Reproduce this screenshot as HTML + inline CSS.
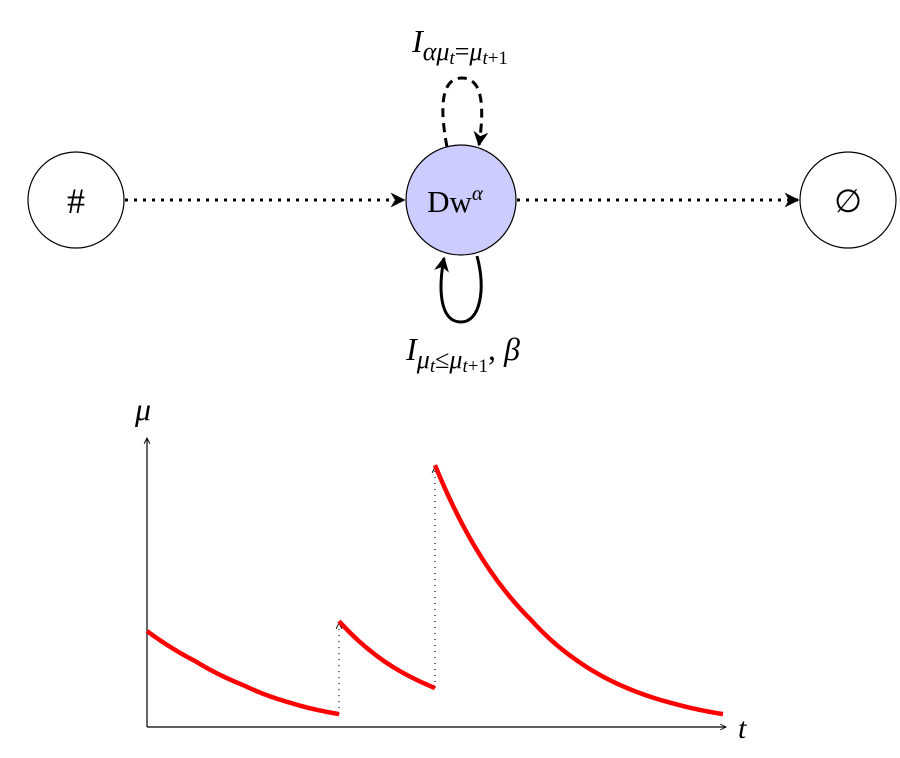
<!DOCTYPE html>
<html><head><meta charset="utf-8"><style>
body{margin:0;background:#fff;}
svg text{font-family:"Liberation Serif",serif;}
</style></head><body>
<svg width="900" height="753" viewBox="0 0 900 753">
<defs>
<marker id="ah" viewBox="0 0 10 10" refX="9" refY="5" markerWidth="5" markerHeight="5" orient="auto"><path d="M0,0 L10,5 L0,10 L3,5 z" fill="#000"/></marker>
<marker id="ax" viewBox="0 0 10 10" refX="9" refY="5" markerWidth="6" markerHeight="6" orient="auto"><path d="M1,1 L9,5 L1,9" fill="none" stroke="#000" stroke-width="1.3"/></marker>
</defs>
<g>
<circle cx="76" cy="200" r="48" fill="#fff" stroke="#000" stroke-width="1.2"/>
<text x="76" y="213" font-size="36" text-anchor="middle">#</text>
<circle cx="461" cy="200" r="55" fill="#ccccff" stroke="#000" stroke-width="1.2"/>
<text x="455" y="212" font-size="31" text-anchor="middle">Dw<tspan font-size="21" font-style="italic" dy="-12">α</tspan></text>
<circle cx="848" cy="200" r="48" fill="#fff" stroke="#000" stroke-width="1.2"/>
<text x="848" y="212" font-size="32" text-anchor="middle">∅</text>
<line x1="125" y1="200" x2="404" y2="200" stroke="#000" stroke-width="3" stroke-dasharray="3,6" marker-end="url(#ah)"/>
<line x1="517" y1="200" x2="798" y2="200" stroke="#000" stroke-width="3" stroke-dasharray="3,6" marker-end="url(#ah)"/>
<path d="M447,147 C440,110 440,78 462,78 C484,78 484,110 479,145" fill="none" stroke="#000" stroke-width="3" stroke-dasharray="9,6" marker-end="url(#ah)"/>
<path d="M477,256 C486,290 480,322 461,322 C440,322 438,290 444,258" fill="none" stroke="#000" stroke-width="3" marker-end="url(#ah)"/>
<text x="460" y="52" font-size="32" text-anchor="middle" font-style="italic">I<tspan font-size="26" dy="8">αμ</tspan><tspan font-size="19" dy="4">t</tspan><tspan font-size="26" dy="-4" font-style="normal">=</tspan><tspan font-size="26">μ</tspan><tspan font-size="19" dy="4">t</tspan><tspan font-size="19" font-style="normal">+1</tspan></text>
<text x="463" y="360" font-size="32" text-anchor="middle" font-style="italic">I<tspan font-size="26" dy="8">μ</tspan><tspan font-size="19" dy="4">t</tspan><tspan font-size="26" dy="-4" font-style="normal">≤</tspan><tspan font-size="26">μ</tspan><tspan font-size="19" dy="4">t</tspan><tspan font-size="19" font-style="normal">+1</tspan><tspan font-style="normal" dy="-12">, </tspan><tspan>β</tspan></text>
</g>
<g id="chart"></g>
</svg>
<script>
var seg1T=[0,0.5,1,1.5,2];
var seg1Mu=[3.2,2.2,1.4,0.8,0.43];
var seg2T=[2,2.5,3];
var seg2Mu=[3.53,2.13,1.3];
var seg3T=[3,3.5,4,4.5,5,5.5,6];
var seg3Mu=[8.73,5.57,3.57,2.17,1.3,0.77,0.43];
var jumpT=[2,3];
var jumpFrom=[0.43,1.3];
var jumpTo=[3.53,8.73];
function xs(t){return 147+t*96;}
function ys(m){return 727-m*30;}
var g=document.getElementById('chart');
var NS='http://www.w3.org/2000/svg';
function mk(tag,attrs){var e=document.createElementNS(NS,tag);for(var k in attrs)e.setAttribute(k,attrs[k]);g.appendChild(e);return e;}
var xa=mk('line',{x1:147,y1:727,x2:726,y2:727,stroke:'#000','stroke-width':1.2,'marker-end':'url(#ax)'});


var ya=mk('line',{x1:147,y1:727,x2:147,y2:438,stroke:'#000','stroke-width':1.2,'marker-end':'url(#ax)'});


var xl=mk('text',{x:738,y:738,'font-size':30,'font-style':'italic'});xl.textContent='t';


var yl=mk('text',{x:135,y:420,'font-size':32,'font-style':'italic'});yl.textContent='μ';


for(var j=0;j<jumpT.length;j++){
 var jl=mk('line',{x1:xs(jumpT[j]),y1:ys(jumpFrom[j]),x2:xs(jumpT[j]),y2:ys(jumpTo[j])+2,stroke:'#000','stroke-width':1.2,'stroke-dasharray':'1,5','marker-end':'url(#ax)'});
 
 
}
function smooth(T,M){
 var d='';
 for(var i=0;i<T.length-1;i++){
  var r=M[i+1]/M[i];
  for(var k=0;k<=20;k++){
   if(i>0&&k==0)continue;
   var s=k/20;
   var t=T[i]+(T[i+1]-T[i])*s, m=M[i]*Math.pow(r,s);
   d+=(d?' L':'M')+xs(t).toFixed(2)+','+ys(m).toFixed(2);
  }
 }
 return d;
}
[[seg1T,seg1Mu],[seg2T,seg2Mu],[seg3T,seg3Mu]].forEach(function(s){
 var c=mk('path',{d:smooth(s[0],s[1]),fill:'none',stroke:'#ff0000','stroke-width':4.5,'stroke-linejoin':'round'});
 
 
});
</script>
</body></html>
